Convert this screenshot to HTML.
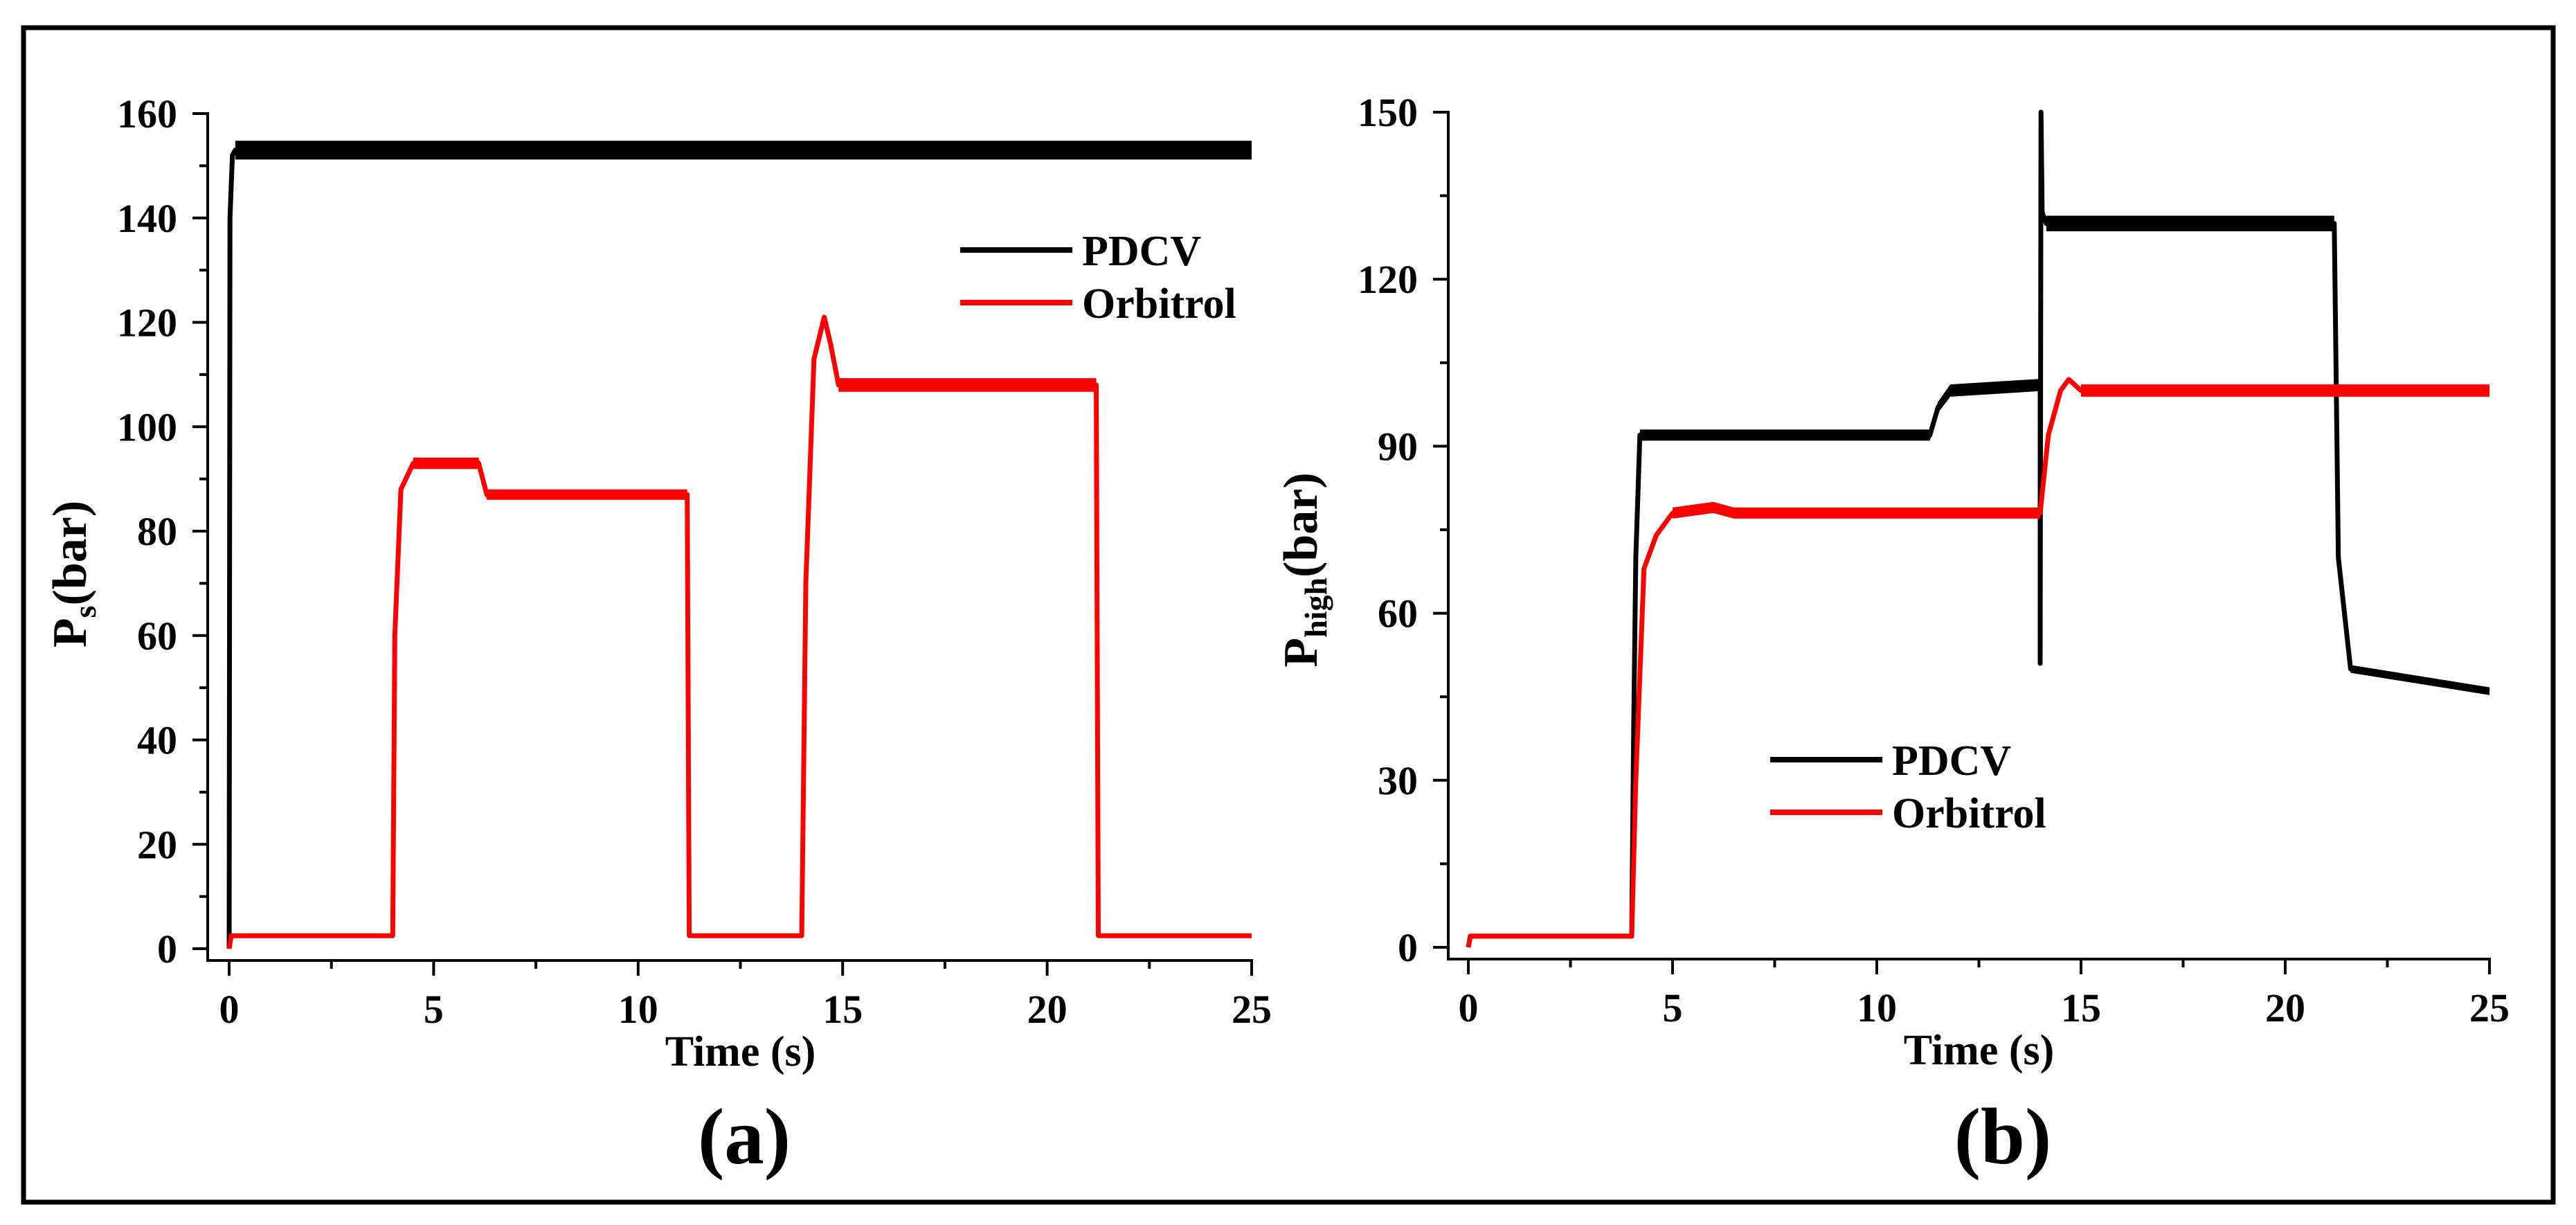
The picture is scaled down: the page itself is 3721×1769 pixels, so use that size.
<!DOCTYPE html>
<html><head><meta charset="utf-8"><style>
html,body{margin:0;padding:0;background:#fff;}
svg{display:block;}
text{font-family:"Liberation Serif",serif;font-weight:bold;fill:#000;}
</style></head><body>
<svg id="fig" width="3721" height="1769" viewBox="0 0 3721 1769" xmlns="http://www.w3.org/2000/svg">
<rect x="34" y="40" width="3654" height="1696" fill="#fff" stroke="#000" stroke-width="7"/>
<g id="pa"></g>
<g id="pb"></g>
</svg>
<script>
// ---- Panel (a) data ----
const aBlackT = [0, 0.02, 0.08, 0.15, 25];
const aBlackV = [0, 140, 152, 153, 153];
const aBlackAmp = [0, 0, 0, 1.8, 1.8];
const aRedT = [0, 0.05, 4.0, 4.05, 4.2, 4.5, 6.1, 6.3, 11.2, 11.25, 14.0, 14.1, 14.3, 14.55, 14.7, 14.9, 21.2, 21.25, 25];
const aRedV = [0, 2.5, 2.5, 60, 88, 93, 93, 87, 87, 2.5, 2.5, 70, 113, 121, 116, 108, 108, 2.5, 2.5];
const aRedAmp = [0, 0, 0, 0, 0, 1.1, 1.1, 1.0, 1.0, 0, 0, 0, 0, 0, 0, 1.3, 1.3, 0, 0];
const aYTicks = [0, 20, 40, 60, 80, 100, 120, 140, 160];
const aXTicks = [0, 5, 10, 15, 20, 25];
// ---- Panel (b) data ----
const bBlackT = [0, 0.05, 4.0, 4.05, 4.1, 4.2, 11.3, 11.5, 11.8, 14.0, 14.0, 14.02, 14.05, 14.15, 21.2, 21.25, 21.3, 21.6, 25];
const bBlackV = [0, 2, 2, 40, 70, 92, 92, 97, 100, 101, 51, 150, 132, 130, 130, 100, 70, 50, 46];
const bBlackAmp = [0, 0, 0, 0, 0, 1.0, 1.0, 1.0, 1.1, 1.1, 0, 0, 0, 1.4, 1.4, 0, 0, 0.7, 0.7];
const bRedT = [0, 0.05, 4.0, 4.1, 4.3, 4.6, 5, 6, 6.5, 14.0, 14.2, 14.5, 14.7, 15, 25];
const bRedV = [0, 2, 2, 30, 68, 74, 78, 79, 78, 78, 92, 100, 102, 100, 100];
const bRedAmp = [0, 0, 0, 0, 0, 0, 1, 1, 1, 1, 0, 0, 0, 1.1, 1.1];
const bYTicks = [0, 30, 60, 90, 120, 150];
const bXTicks = [0, 5, 10, 15, 20, 25];

const NS = "http://www.w3.org/2000/svg";
function el(parent, tag, attrs, txt){
  const e = document.createElementNS(NS, tag);
  for (const k in attrs) e.setAttribute(k, attrs[k]);
  if (txt !== undefined) e.textContent = txt;
  parent.appendChild(e);
  return e;
}

function panel(g, cfg){
  const sx = t => cfg.x0 + (t - 0) / 25 * (cfg.x25 - cfg.x0);
  const sy = v => cfg.yBot - (v - 0) / cfg.yMax * (cfg.yBot - cfg.yTop);
  let e = el(g, 'line', {x1: cfg.ax, y1: cfg.yTop - 2, x2: cfg.ax, y2: cfg.axY + 2, stroke: '#000', 'stroke-width': 4});
  
  
  e = el(g, 'line', {x1: cfg.ax - 2, y1: cfg.axY, x2: cfg.x25 + 2, y2: cfg.axY, stroke: '#000', 'stroke-width': 4});
  
  
  cfg.yTicks.forEach((v, i) => {
    const y = sy(v);
    let t = el(g, 'line', {x1: cfg.ax - 22, y1: y, x2: cfg.ax, y2: y, stroke: '#000', 'stroke-width': 4});
    
    
    let l = el(g, 'text', {x: cfg.ax - 44, y: y + 20, 'font-size': 58, 'text-anchor': 'end'}, String(v));
    
    
    if (i < cfg.yTicks.length - 1) {
      const ym = sy((v + cfg.yTicks[i + 1]) / 2);
      let m = el(g, 'line', {x1: cfg.ax - 12, y1: ym, x2: cfg.ax, y2: ym, stroke: '#000', 'stroke-width': 4});
      
      
    }
  });
  cfg.xTicks.forEach((v, i) => {
    const x = sx(v);
    let t = el(g, 'line', {x1: x, y1: cfg.axY, x2: x, y2: cfg.axY + 22, stroke: '#000', 'stroke-width': 4});
    
    
    let l = el(g, 'text', {x: x, y: cfg.axY + 90, 'font-size': 58, 'text-anchor': 'middle'}, String(v));
    
    
    if (i < cfg.xTicks.length - 1) {
      const xm = sx((v + cfg.xTicks[i + 1]) / 2);
      let m = el(g, 'line', {x1: xm, y1: cfg.axY, x2: xm, y2: cfg.axY + 12, stroke: '#000', 'stroke-width': 4});
      
      
    }
  });
  cfg.series.forEach(s => {
    const sg = el(g, 'g', {});
    
    
    for (let i = 0; i < s.t.length - 1; i++) {
      if (s.amp[i] > 0 && s.amp[i + 1] > 0) {
        const pts = [
          [sx(s.t[i]), sy(s.v[i] + s.amp[i])],
          [sx(s.t[i + 1]), sy(s.v[i + 1] + s.amp[i + 1])],
          [sx(s.t[i + 1]), sy(s.v[i + 1] - s.amp[i + 1])],
          [sx(s.t[i]), sy(s.v[i] - s.amp[i])]
        ].map(p => p.join(',')).join(' ');
        const b = el(sg, 'polygon', {points: pts, fill: s.color});
        
        
      }
    }
    const d = s.t.map((t, i) => (i ? 'L' : 'M') + sx(t).toFixed(1) + ',' + sy(s.v[i]).toFixed(1)).join(' ');
    const p = el(sg, 'path', {d: d, fill: 'none', stroke: s.color, 'stroke-width': 7, 'stroke-linejoin': 'round'});
    
    
  });
  const lg = el(g, 'g', {});
  
  
  cfg.series.forEach((s, i) => {
    const y = cfg.legY + i * cfg.legGap;
    const ln = el(lg, 'line', {x1: cfg.legX, y1: y, x2: cfg.legX + 162, y2: y, stroke: s.color, 'stroke-width': 8});
    
    
    const tx = el(lg, 'text', {x: cfg.legX + 176, y: y + 22, 'font-size': 62}, s.label);
    
    
  });
  let xt = el(g, 'text', {x: (cfg.x0 + cfg.x25) / 2, y: cfg.axY + 152, 'font-size': 62, 'text-anchor': 'middle'}, 'Time (s)');
  
  
  const yt = el(g, 'text', {x: 0, y: 0, 'font-size': 70, 'text-anchor': 'middle', transform: 'translate(' + cfg.ytX + ',' + cfg.ytY + ') rotate(-90)'});
  
  
  el(yt, 'tspan', {}, 'P');
  el(yt, 'tspan', {'font-size': 46, dy: 14}, cfg.sub);
  el(yt, 'tspan', {dy: -14}, '(bar)');
  let pl = el(g, 'text', {x: cfg.plX, y: 1680, 'font-size': 115, 'text-anchor': 'middle'}, cfg.panelLabel);
  
  
}

panel(document.getElementById('pa'), {
  ax: 300, x0: 331, x25: 1808, yTop: 164, yBot: 1370, yMax: 160, axY: 1387,
  yTicks: aYTicks, xTicks: aXTicks,
  series: [
    {name: 'pdcv-series', label: 'PDCV', color: '#000', t: aBlackT, v: aBlackV, amp: aBlackAmp},
    {name: 'orbitrol-series', label: 'Orbitrol', color: '#f00', t: aRedT, v: aRedV, amp: aRedAmp}
  ],
  legX: 1387, legY: 361, legGap: 76, ytX: 124, ytY: 829, sub: 's', panelLabel: '(a)', plX: 1075
});
panel(document.getElementById('pb'), {
  ax: 2092, x0: 2121, x25: 3596, yTop: 162, yBot: 1368, yMax: 150, axY: 1385,
  yTicks: bYTicks, xTicks: bXTicks,
  series: [
    {name: 'pdcv-series', label: 'PDCV', color: '#000', t: bBlackT, v: bBlackV, amp: bBlackAmp},
    {name: 'orbitrol-series', label: 'Orbitrol', color: '#f00', t: bRedT, v: bRedV, amp: bRedAmp}
  ],
  legX: 2557, legY: 1097, legGap: 76, ytX: 1902, ytY: 823, sub: 'high', panelLabel: '(b)', plX: 2893
});
</script>
</body></html>
